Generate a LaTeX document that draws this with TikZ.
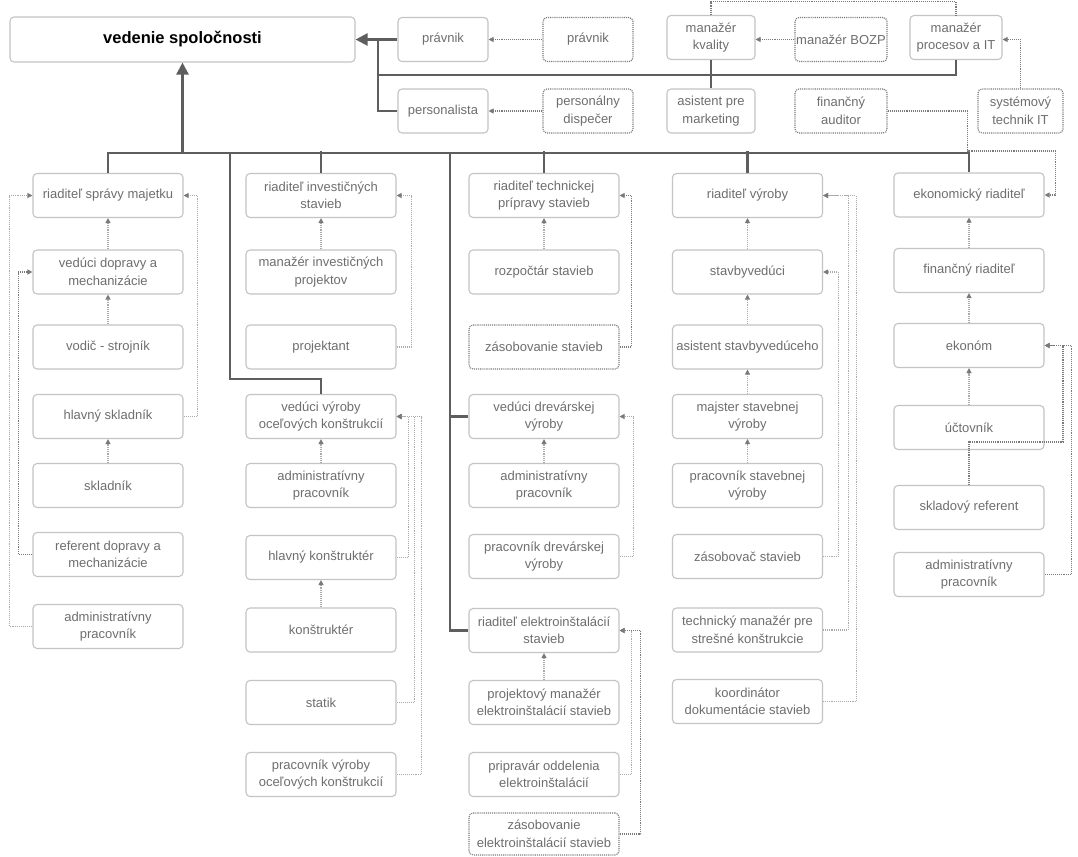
\documentclass[tikz,border=0pt]{standalone}
\usepackage{fontspec}
\setmainfont{Liberation Sans}
\usetikzlibrary{arrows.meta}
\definecolor{bd}{HTML}{C4C4C4}
\definecolor{tx}{HTML}{6E6E6E}
\definecolor{ln}{HTML}{5E5E5E}
\definecolor{dt}{HTML}{ABABAB}
\definecolor{dtd}{HTML}{7A7A7A}
\begin{document}
\begin{tikzpicture}[x=1pt,y=-1pt,
 box/.style={draw=bd,line width=1.1pt,rounded corners=4pt,minimum width=150pt,minimum height=44pt,align=center,text=tx,font=\fontsize{13}{17.5}\selectfont,inner sep=1pt},
 sbox/.style={box,minimum width=90pt},
 dbox/.style={draw=dtd,densely dotted},
 conn/.style={draw=ln,line width=2.4pt},
 connA/.style={conn,-{Triangle[length=12pt,width=12pt]}},
 dl/.style={draw=dt,densely dotted,line width=1.1pt},
 dla/.style={dl,-{Triangle[length=5pt,width=5pt,color=dtd]}},
 dlb/.style={dla,draw=dtd},
]
\fill[white] (0,0) rectangle (1078,856);
\useasboundingbox (0,0) rectangle (1078,856);

% top
\node[box,minimum width=345pt,minimum height=45pt,text=black,font=\bfseries\fontsize{16.5}{20}\selectfont] (ved) at (182.5,39.5) {vedenie spoločnosti};
\node[sbox] (pr1) at (443,39.5) {právnik};
\node[sbox] (pers) at (443,111) {personalista};
\node[sbox,dbox] (pr2) at (588,39.5) {právnik};
\node[sbox,dbox] (disp) at (588,111) {personálny\\dispečer};
\node[sbox,minimum width=88pt] (kval) at (711,37.5) {manažér\\kvality};
\node[sbox,dbox,minimum width=92pt] (bozp) at (841,39.5) {manažér BOZP};
\node[sbox,minimum width=92pt] (proc) at (956,37.5) {manažér\\procesov a IT};
\node[sbox,minimum width=88pt] (asist) at (711,111) {asistent pre\\marketing};
\node[sbox,dbox,minimum width=92pt] (audit) at (841,111) {finančný\\auditor};
\node[sbox,dbox,minimum width=85pt] (sys) at (1020.5,111) {systémový\\technik IT};

% column 1
\node[box] (a1) at (108,195.5) {riaditeľ správy majetku};
\node[box] (a2) at (108,272) {vedúci dopravy a\\mechanizácie};
\node[box] (a3) at (108,347) {vodič - strojník};
\node[box] (a4) at (108,416.5) {hlavný skladník};
\node[box] (a5) at (108,485.5) {skladník};
\node[box] (a6) at (108,554.5) {referent dopravy a\\mechanizácie};
\node[box] (a7) at (108,626.5) {administratívny\\pracovník};

% column 2
\node[box] (b1) at (321,195.5) {riaditeľ investičných\\stavieb};
\node[box] (b2) at (321,272) {manažér investičných\\projektov};
\node[box] (b3) at (321,347) {projektant};
\node[box] (b4) at (321,416.5) {vedúci výroby\\oceľových konštrukcií};
\node[box] (b5) at (321,485.5) {administratívny\\pracovník};
\node[box] (b6) at (321,557.5) {hlavný konštruktér};
\node[box] (b7) at (321,630) {konštruktér};
\node[box] (b8) at (321,702.5) {statik};
\node[box] (b9) at (321,774.5) {pracovník výroby\\oceľových konštrukcií};

% column 3
\node[box] (c1) at (544,195.5) {riaditeľ technickej\\prípravy stavieb};
\node[box] (c2) at (544,272) {rozpočtár stavieb};
\node[box,dbox] (c3) at (544,347) {zásobovanie stavieb};
\node[box] (c4) at (544,416.5) {vedúci drevárskej\\výroby};
\node[box] (c5) at (544,485.5) {administratívny\\pracovník};
\node[box] (c6) at (544,556.5) {pracovník drevárskej\\výroby};
\node[box] (c7) at (544,630.5) {riaditeľ elektroinštalácií\\stavieb};
\node[box] (c8) at (544,702.5) {projektový manažér\\elektroinštalácií stavieb};
\node[box] (c9) at (544,774.5) {pripravár oddelenia\\elektroinštalácií};
\node[box,dbox,minimum height=42pt] (c10) at (544,834) {zásobovanie\\elektroinštalácií stavieb};

% column 4
\node[box] (d1) at (747.5,195.5) {riaditeľ výroby};
\node[box] (d2) at (747.5,272) {stavbyvedúci};
\node[box] (d3) at (747.5,347) {asistent stavbyvedúceho};
\node[box] (d4) at (747.5,416.5) {majster stavebnej\\výroby};
\node[box] (d5) at (747.5,485.5) {pracovník stavebnej\\výroby};
\node[box] (d6) at (747.5,556.5) {zásobovač stavieb};
\node[box] (d7) at (747.5,630) {technický manažér pre\\strešné konštrukcie};
\node[box] (d8) at (747.5,701.5) {koordinátor\\dokumentácie stavieb};

% column 5
\node[box] (e1) at (969,195) {ekonomický riaditeľ};
\node[box] (e2) at (969,270.5) {finančný riaditeľ};
\node[box] (e3) at (969,345.5) {ekonóm};
\node[box] (e4) at (969,427.5) {účtovník};
\node[box] (e5) at (969,507.5) {skladový referent};
\node[box] (e6) at (969,574.5) {administratívny\\pracovník};

% solid connectors top
\coordinate (j) at (378,39.5);
\coordinate (jb) at (378,75);
\draw[conn] (pr1.west) -- (j);
\draw[connA] (j) -- (ved.east);
\draw[conn] (pers.west) -| (j);
\draw[conn] (jb) -| (proc.south);
\draw[conn] (kval.south) -- (asist.north);

% main bus
\coordinate (busL) at (182.5,153);
\coordinate (k2) at (230,153);
\coordinate (k3) at (450,153);
\draw[conn] (a1.north) -- ++(0,-20) -| (e1.north);
\draw[connA] (busL) -- (ved.south);
\draw[conn] (b1.north) -- ++(0,-22);
\draw[conn] (c1.north) -- ++(0,-22);
\draw[conn] (d1.north) -- ++(0,-22);
\draw[conn] (b4.north) -- ++(0,-15) -| (k2);
\draw[conn] (k3) |- (c7.west);
\draw[conn] (c4.west) -- (c4.west -| k3);

% dotted top
\draw[dlb] (pr2.west) -- (pr1.east);
\draw[dlb] (disp.west) -- (pers.east);
\draw[dlb] (bozp.west) -- (kval.east |- bozp.west);
\draw[dlb] (sys.north) |- (proc.east |- bozp.west);
\draw[dl,draw=dtd] (kval.north) -- ++(0,-13) -| (proc.north);
\draw[dlb] (audit.east) -- ++(80,0) -- ++(0,40) -- ++(88,0) |- (e1.east);

% column 1 dotted
\draw[dla] (a2.north) -- (a1.south);
\draw[dla] (a3.north) -- (a2.south);
\draw[dla] (a5.north) -- (a4.south);
\draw[dla] (a4.east) -- ++(14,0) |- (a1.east);
\draw[dlb] (a6.west) -- ++(-14,0) |- (a2.west);
\draw[dla] (a7.west) -- ++(-23,0) |- (a1.west);

% column 2 dotted
\draw[dla] (b2.north) -- (b1.south);
\draw[dla] (b3.east) -- ++(15,0) |- (b1.east);
\draw[dla] (b5.north) -- (b4.south);
\draw[dla] (b7.north) -- (b6.south);
\draw[dla] (b6.east) -- ++(12,0) |- (b4.east);
\draw[dla] (b8.east) -- ++(18,0) |- (b4.east);
\draw[dla] (b9.east) -- ++(25,0) |- (b4.east);

% column 3 dotted
\draw[dla] (c2.north) -- (c1.south);
\draw[dlb] (c3.east) -- ++(12,0) |- (c1.east);
\draw[dla] (c5.north) -- (c4.south);
\draw[dla] (c6.east) -- ++(14,0) |- (c4.east);
\draw[dla] (c8.north) -- (c7.south);
\draw[dla] (c9.east) -- ++(12,0) |- (c7.east);
\draw[dlb] (c10.east) -- ++(21,0) |- (c7.east);

% column 4 dotted
\draw[dla] (d2.north) -- (d1.south);
\draw[dla] (d3.north) -- (d2.south);
\draw[dla] (d4.north) -- (d3.south);
\draw[dla] (d5.north) -- (d4.south);
\draw[dla] (d6.east) -- ++(15,0) |- (d2.east);
\draw[dla] (d7.east) -- ++(25,0) |- (d1.east);
\draw[dla] (d8.east) -- ++(33,0) |- (d1.east);

% column 5 dotted
\draw[dla] (e2.north) -- (e1.south);
\draw[dla] (e3.north) -- (e2.south);
\draw[dla] (e4.north) -- (e3.south);
\draw[dlb] (e5.north) -- ++(0,-43) -- ++(94,0) |- (e3.east);
\draw[dlb] (e6.east) -- ++(27,0) |- (e3.east);
\end{tikzpicture}
\end{document}
